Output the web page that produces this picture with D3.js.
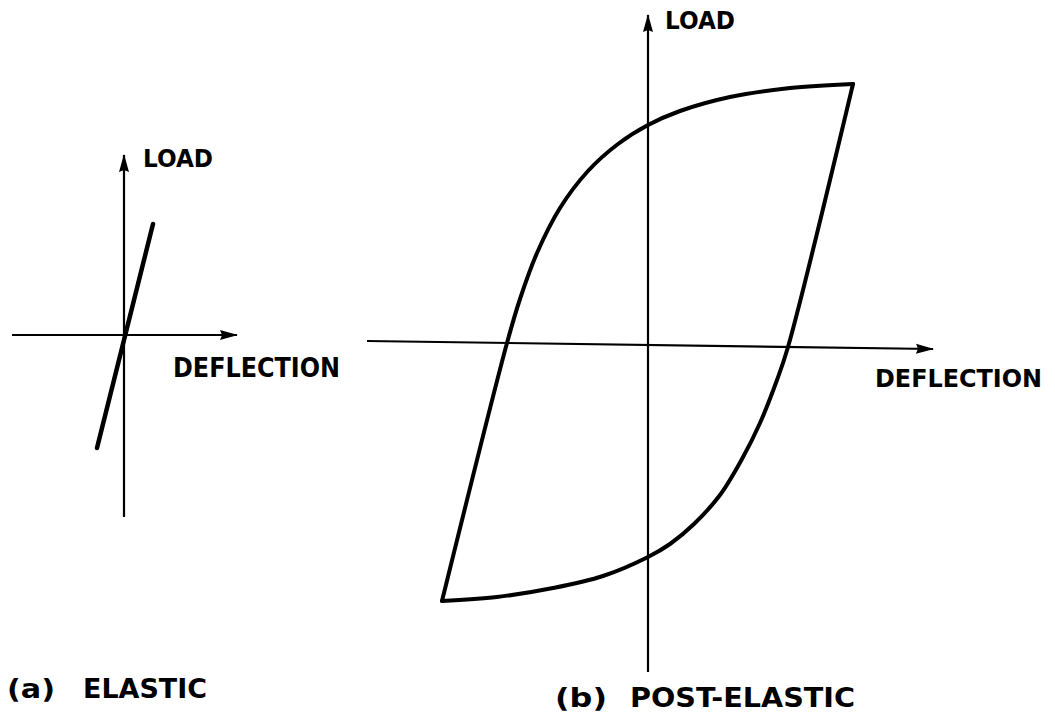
<!DOCTYPE html>
<html lang="en">
<head>
<meta charset="UTF-8">
<title>Load - deflection: elastic and post-elastic</title>
<script src="https://d3js.org/d3.v7.min.js"></script>
<style>
  body { margin: 0; background: #fff; }
  svg { display: block; }
  text { font-family: "DejaVu Sans", Arial, sans-serif; font-weight: bold; fill: #000; }
</style>
</head>
<body>
<svg id="chart"></svg>
<script>
// (a) elastic: one straight line through the origin (deflection, load)
const elasticLine = [[-1.35, -5.65], [1.45, 5.55]];

// (b) post-elastic hysteresis loop, loading branch (left to right)
const upperBranch = [
  [-10.3, -12.8], [-7.05, 0.1], [-6.4, 2.3], [-5.55, 4.6], [-4.4, 6.85],
  [-3.0, 8.7], [-1.5, 10.05], [0, 11.0], [1.6, 11.7], [4.1, 12.4],
  [7.1, 12.85], [10.25, 13.05]
];
// unloading branch (right to left)
const lowerBranch = [
  [10.25, 13.05], [7.0, -0.1], [6.45, -1.75], [5.6, -3.9], [4.7, -5.7],
  [3.6, -7.5], [2.3, -8.95], [1.1, -9.95], [0, -10.6], [-2.25, -11.55],
  [-4.75, -12.15], [-7.55, -12.6], [-10.3, -12.8]
];

const axisLabels = ["LOAD", "DEFLECTION"];
const captions = [["(a)", "ELASTIC"], ["(b)", "POST-ELASTIC"]];

const width = 1055, height = 722;
const svg = d3.select("#chart").attr("width", width).attr("height", height);

svg.append("defs").append("marker")
    .attr("id", "arrow")
    .attr("viewBox", "0 0 18 11")
    .attr("refX", 17).attr("refY", 5.5)
    .attr("markerWidth", 18).attr("markerHeight", 11)
    .attr("markerUnits", "userSpaceOnUse")
    .attr("orient", "auto")
  .append("path")
    .attr("d", "M0,0.5L18,5.5L0,10.5L2,5.5Z")
    .attr("fill", "#000");

// 20 px per unit in both panels
const xa = d3.scaleLinear().domain([-5.6, 5.65]).range([12, 237]);
const ya = d3.scaleLinear().domain([-9.1, 9.0]).range([517, 155]);
const xb = d3.scaleLinear().domain([-14.05, 14.25]).range([367, 933]);
const yb = d3.scaleLinear().domain([-16.35, 16.5]).range([672, 15]);

function drawAxes(x, y, xd, yd, tiltL, tiltR) {
  svg.append("line")
      .attr("x1", x(xd[0])).attr("y1", y(tiltL))
      .attr("x2", x(xd[1])).attr("y2", y(tiltR))
      .attr("stroke", "#000").attr("stroke-width", 2.2)
      .attr("marker-end", "url(#arrow)");
  svg.append("line")
      .attr("x1", x(0)).attr("y1", y(yd[0]))
      .attr("x2", x(0)).attr("y2", y(yd[1]))
      .attr("stroke", "#000").attr("stroke-width", 2.2)
      .attr("marker-end", "url(#arrow)");
}

drawAxes(xa, ya, xa.domain(), ya.domain(), 0, 0);
drawAxes(xb, yb, xb.domain(), yb.domain(), 0.2, -0.2);

// elastic line
svg.append("path")
    .datum(elasticLine)
    .attr("d", d3.line().x(d => xa(d[0])).y(d => ya(d[1])))
    .attr("fill", "none").attr("stroke", "#000")
    .attr("stroke-width", 4.5).attr("stroke-linecap", "round");

// hysteresis loop
const loopLine = d3.line().x(d => xb(d[0])).y(d => yb(d[1])).curve(d3.curveCatmullRom.alpha(0.5));
[upperBranch, lowerBranch].forEach(branch => {
  svg.append("path")
      .datum(branch)
      .attr("d", loopLine)
      .attr("fill", "none").attr("stroke", "#000")
      .attr("stroke-width", 4)
      .attr("stroke-linejoin", "round").attr("stroke-linecap", "round");
});

// axis labels
function label(txt, x, y, len, size) {
  svg.append("text")
      .attr("x", x).attr("y", y)
      .attr("font-size", size)
      .attr("textLength", len).attr("lengthAdjust", "spacingAndGlyphs")
      .text(txt);
}
label(axisLabels[0], 143, 167, 70, 24);
label(axisLabels[1], 173, 377, 167, 26);
label(axisLabels[0], 665, 29, 70, 24);
label(axisLabels[1], 875, 387, 167, 25);

// captions
label(captions[0][0], 7, 698, 48, 27);
label(captions[0][1], 83, 698, 124, 27);
label(captions[1][0], 555, 707, 52, 27);
label(captions[1][1], 630, 707, 225, 27);
</script>
</body>
</html>
